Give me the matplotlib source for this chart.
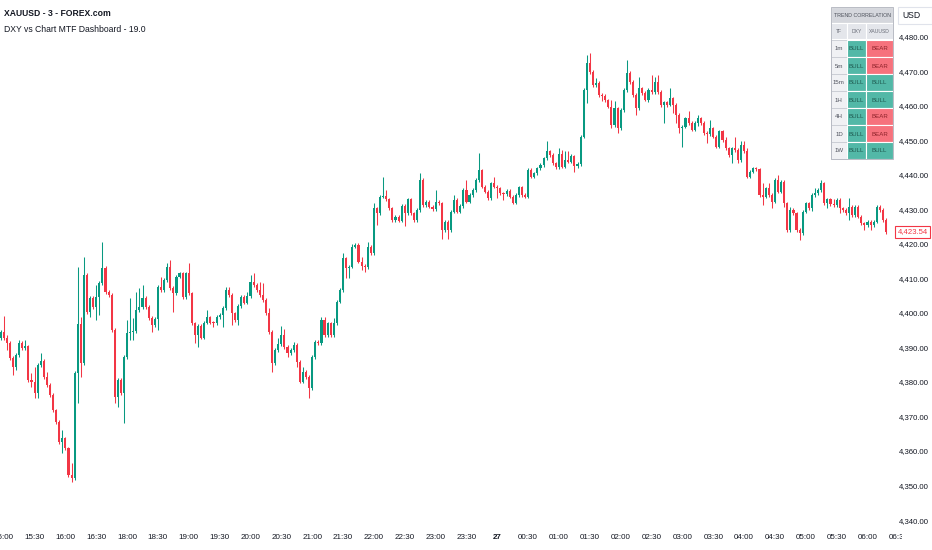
import numpy as np
import matplotlib.pyplot as plt
from matplotlib import font_manager
from matplotlib.patches import Rectangle

# pick a narrow sans if the box has one
names = {f.name for f in font_manager.fontManager.ttflist}
narrow = 'Liberation Sans Narrow' if 'Liberation Sans Narrow' in names else 'Liberation Sans'
plt.rcParams['font.family'] = [narrow, 'DejaVu Sans']

GREEN = '#089981'
RED = '#f23645'
TXT = '#131722'

# XAUUSD 3-minute candles, 14:57 -> 06:27
opens = [
    # 14:57 - 16:57
    4392.7, 4394.4, 4392.9, 4391.2, 4386.9, 4384.4, 4387.8, 4391.2, 4389.8, 4390.3,
    4380.6, 4380.1, 4376.7, 4384.9, 4386.1, 4381.6, 4379.1, 4376.2, 4371.9, 4368.5,
    4362.7, 4363.7, 4360.8, 4353.1, 4352.1, 4382.7, 4396.7, 4385.4, 4411.0, 4400.4,
    4404.3, 4401.8, 4404.7, 4408.6, 4413.0, 4406.2, 4405.2, 4395.1,
    # 18:00 -
    4375.8, 4380.6, 4376.9, 4387.3, 4394.1, 4394.6, 4394.9, 4400.9, 4401.8, 4404.3,
    4401.8, 4398.5, 4396.5, 4398.2, 4407.6, 4406.7, 4409.6, 4413.4, 4407.2, 4405.7,
    4410.5, 4411.5, 4404.7, 4411.5, 4405.7, 4397.0, 4393.6, 4396.2, 4392.9, 4397.2,
    4398.7, 4397.2, 4397.0, 4398.9,
    4399.4, 4401.4, 4406.7, 4405.2, 4399.9, 4398.0, 4402.0, 4404.7, 4403.0, 4404.9,
    4409.1, 4408.1, 4406.7, 4405.2, 4403.8, 4399.9, 4394.6, 4385.4, 4389.3, 4391.0,
    4393.6, 4390.2, 4388.3, 4389.3, 4390.7, 4385.9, 4380.1, 4383.0, 4381.5, 4378.2,
    4387.3, 4391.7, 4391.2, 4398.0, 4393.6, 4397.0, 4393.6, 4397.0, 4403.3,
    4406.7, 4415.8, 4412.9, 4413.4, 4419.2, 4419.7, 4414.9, 4413.6, 4413.2, 4419.2,
    4417.3, 4430.3, 4428.9, 4433.7, 4433.9, 4432.9, 4430.3, 4427.0, 4427.9, 4426.8,
    4431.0, 4428.9, 4432.9, 4428.9, 4427.0, 4429.9, 4438.6, 4431.3, 4432.3, 4430.8,
    4430.1, 4432.3, 4431.8, 4424.1, 4426.5, 4424.1,
    4429.4, 4432.7, 4429.4, 4431.0, 4435.6, 4432.3, 4434.2, 4435.6, 4438.5, 4441.3,
    4436.6, 4435.2, 4433.2, 4437.6, 4436.6, 4436.1, 4434.7, 4434.5, 4435.4, 4433.7,
    4432.0, 4434.2, 4436.4, 4434.2, 4433.7, 4441.4, 4439.5, 4440.5, 4441.9, 4442.9,
    4444.8, 4446.8, 4445.8,
    4443.4, 4442.2, 4446.1, 4442.4, 4444.3, 4443.9, 4445.5, 4442.6, 4443.2, 4451.1,
    4464.6, 4472.4, 4469.9, 4466.1, 4466.6, 4463.2, 4462.9, 4461.7, 4459.8, 4454.5,
    4459.3, 4453.5, 4458.8, 4464.6, 4469.5, 4467.0, 4463.2, 4459.3, 4465.1, 4463.7,
    4461.7, 4464.6, 4464.1, 4466.8, 4464.1, 4460.3, 4461.0,
    4460.3, 4462.2, 4460.3, 4457.4, 4453.5, 4454.0, 4456.4, 4455.0, 4453.1, 4455.0,
    4456.4, 4455.0, 4452.1, 4451.9, 4453.5, 4451.1, 4448.2, 4452.6, 4450.1, 4447.7,
    4445.8, 4447.7, 4447.2, 4444.4, 4448.7, 4446.8, 4439.5, 4441.0, 4441.9, 4441.6,
    4434.2, 4433.7, 4436.1, 4434.2, 4432.3,
    4438.6, 4435.2, 4438.1, 4431.8, 4424.1, 4429.9, 4428.9, 4424.1, 4423.1, 4429.4,
    4431.8, 4430.3, 4434.2, 4434.7, 4435.7, 4437.6, 4431.8, 4432.9, 4431.6, 4431.3,
    4432.8, 4430.3, 4429.9, 4428.9, 4430.8, 4428.4, 4430.8, 4427.9, 4426.0, 4425.5,
    4426.5, 4425.5, 4426.5, 4430.8, 4429.9, 4427.0,
]
highs = [
    4395.0, 4399.1, 4393.6, 4391.8, 4387.4, 4388.3, 4392.2, 4392.0, 4392.2, 4390.8,
    4382.5, 4384.4, 4385.4, 4388.3, 4386.6, 4382.8, 4379.6, 4376.7, 4372.3, 4369.0,
    4366.1, 4364.2, 4361.3, 4356.4, 4383.2, 4413.4, 4398.9, 4416.3, 4411.5, 4404.8,
    4405.0, 4408.1, 4409.2, 4420.7, 4413.5, 4406.8, 4405.7, 4395.6,
    4381.2, 4381.1, 4387.9, 4398.0, 4404.3, 4398.5, 4406.2, 4407.2, 4408.1, 4404.8,
    4402.3, 4399.0, 4398.7, 4408.2, 4410.5, 4410.1, 4414.4, 4415.4, 4407.7, 4411.0,
    4412.0, 4412.0, 4412.0, 4414.4, 4406.2, 4397.5, 4396.7, 4396.7, 4397.7, 4400.9,
    4399.2, 4397.7, 4399.5, 4400.0,
    4401.9, 4407.6, 4407.6, 4405.7, 4400.4, 4402.5, 4405.2, 4405.2, 4406.2, 4411.0,
    4411.5, 4408.6, 4409.1, 4408.6, 4404.3, 4401.4, 4395.1, 4389.8, 4392.7, 4396.2,
    4395.5, 4390.7, 4389.8, 4391.7, 4391.2, 4386.4, 4384.4, 4383.5, 4382.0, 4387.8,
    4392.2, 4392.2, 4398.9, 4398.9, 4397.5, 4397.5, 4398.5, 4403.8, 4407.2,
    4417.3, 4416.3, 4414.0, 4419.9, 4420.2, 4420.2, 4416.3, 4414.1, 4420.7, 4419.7,
    4431.8, 4430.8, 4434.2, 4439.5, 4435.7, 4433.3, 4430.8, 4428.4, 4428.4, 4431.5,
    4431.5, 4433.4, 4433.4, 4429.4, 4430.4, 4440.5, 4439.1, 4432.8, 4432.8, 4431.3,
    4435.7, 4432.8, 4432.3, 4427.0, 4427.0, 4429.9,
    4434.2, 4433.2, 4431.5, 4436.1, 4438.5, 4434.7, 4436.1, 4439.0, 4446.3, 4441.8,
    4437.1, 4435.7, 4438.1, 4439.5, 4437.1, 4436.6, 4435.2, 4435.9, 4435.9, 4434.2,
    4434.7, 4436.9, 4436.9, 4434.7, 4441.9, 4441.9, 4441.0, 4442.4, 4443.4, 4445.3,
    4449.7, 4447.3, 4446.3,
    4443.9, 4447.7, 4447.2, 4446.8, 4446.8, 4446.0, 4445.8, 4443.7, 4451.6, 4465.1,
    4474.8, 4475.3, 4470.4, 4468.0, 4467.1, 4463.7, 4463.4, 4461.9, 4461.7, 4461.3,
    4459.8, 4459.3, 4465.1, 4473.3, 4470.0, 4467.5, 4463.7, 4468.5, 4465.6, 4464.2,
    4465.1, 4469.0, 4468.5, 4469.0, 4464.6, 4461.5, 4461.5,
    4465.1, 4462.7, 4460.8, 4457.9, 4454.5, 4456.9, 4458.4, 4455.5, 4455.5, 4457.4,
    4456.9, 4455.5, 4452.6, 4456.0, 4454.0, 4451.6, 4453.1, 4453.1, 4451.1, 4448.2,
    4448.2, 4451.1, 4447.7, 4449.7, 4449.7, 4447.7, 4441.5, 4442.4, 4442.4, 4442.1,
    4437.6, 4436.6, 4437.6, 4434.7, 4439.1,
    4440.0, 4438.6, 4438.6, 4432.3, 4430.8, 4430.4, 4429.4, 4424.6, 4429.9, 4432.3,
    4432.3, 4434.7, 4436.1, 4436.2, 4438.6, 4438.1, 4433.4, 4433.4, 4432.9, 4433.3,
    4433.3, 4430.6, 4430.4, 4433.2, 4431.3, 4431.3, 4431.3, 4428.4, 4426.5, 4427.0,
    4427.0, 4427.0, 4431.3, 4431.3, 4430.4, 4427.5,
]
lows = [
    4392.2, 4392.3, 4389.3, 4386.4, 4382.0, 4383.5, 4387.3, 4389.2, 4389.3, 4380.0,
    4378.7, 4375.3, 4375.3, 4384.4, 4381.0, 4378.6, 4375.6, 4371.2, 4367.9, 4362.0,
    4359.3, 4360.2, 4352.5, 4351.1, 4351.6, 4373.8, 4381.6, 4384.8, 4399.8, 4398.9,
    4401.2, 4398.0, 4399.4, 4408.0, 4405.6, 4404.6, 4394.5, 4373.8,
    4372.9, 4376.3, 4368.0, 4386.8, 4392.2, 4392.2, 4394.3, 4400.3, 4401.2, 4401.2,
    4397.9, 4394.6, 4396.0, 4395.1, 4406.1, 4406.1, 4409.0, 4406.6, 4400.4, 4405.2,
    4410.0, 4404.2, 4404.2, 4405.2, 4396.4, 4391.2, 4390.2, 4392.4, 4392.4, 4396.7,
    4396.7, 4395.8, 4396.5, 4398.4,
    4396.0, 4400.9, 4404.7, 4396.5, 4397.4, 4396.5, 4401.5, 4402.5, 4402.5, 4404.4,
    4407.6, 4406.2, 4404.7, 4403.3, 4399.4, 4394.0, 4383.0, 4384.9, 4388.8, 4390.5,
    4389.7, 4387.3, 4387.8, 4388.8, 4384.4, 4379.6, 4379.6, 4381.0, 4375.3, 4377.7,
    4386.8, 4390.7, 4390.7, 4393.1, 4393.1, 4393.1, 4393.1, 4396.5, 4402.8,
    4406.2, 4410.0, 4410.0, 4412.9, 4418.7, 4414.4, 4412.5, 4412.0, 4412.7, 4416.8,
    4416.8, 4425.5, 4428.4, 4433.2, 4432.4, 4429.8, 4426.5, 4426.5, 4426.3, 4426.3,
    4425.2, 4428.4, 4428.4, 4426.5, 4426.5, 4429.4, 4430.8, 4430.8, 4430.3, 4429.6,
    4429.6, 4431.3, 4421.4, 4423.6, 4421.4, 4423.6,
    4428.9, 4428.9, 4428.9, 4430.5, 4431.8, 4431.8, 4433.7, 4435.1, 4438.0, 4436.1,
    4434.7, 4432.7, 4432.7, 4436.1, 4433.2, 4434.2, 4432.7, 4434.0, 4433.2, 4431.5,
    4431.5, 4433.7, 4433.7, 4433.2, 4433.2, 4439.0, 4439.0, 4440.0, 4441.4, 4442.4,
    4444.3, 4445.3, 4442.9,
    4441.7, 4441.7, 4441.9, 4441.9, 4443.4, 4443.4, 4441.0, 4441.9, 4442.7, 4450.6,
    4460.8, 4469.4, 4465.6, 4465.6, 4462.7, 4461.3, 4461.2, 4459.3, 4453.5, 4454.0,
    4452.3, 4453.0, 4458.3, 4464.1, 4466.5, 4462.7, 4457.4, 4458.8, 4463.2, 4461.3,
    4461.2, 4463.6, 4463.6, 4463.6, 4459.8, 4455.0, 4459.8,
    4460.0, 4457.9, 4455.0, 4452.1, 4448.2, 4453.5, 4454.5, 4452.6, 4452.6, 4454.3,
    4454.5, 4451.6, 4449.2, 4451.4, 4450.6, 4447.7, 4447.7, 4449.6, 4447.2, 4445.3,
    4443.4, 4446.7, 4443.4, 4443.9, 4446.3, 4439.0, 4439.0, 4440.5, 4441.1, 4433.7,
    4431.3, 4433.2, 4433.7, 4430.3, 4431.8,
    4434.7, 4434.7, 4430.8, 4423.6, 4423.6, 4428.4, 4423.6, 4421.2, 4422.6, 4428.9,
    4429.8, 4429.5, 4433.7, 4434.2, 4435.2, 4431.3, 4430.3, 4431.1, 4430.8, 4430.8,
    4428.9, 4429.4, 4428.4, 4426.9, 4427.9, 4427.9, 4427.4, 4425.5, 4424.1, 4425.0,
    4424.1, 4425.0, 4426.2, 4429.4, 4426.5, 4423.0,
]
closes = [
    4394.4, 4392.9, 4391.2, 4386.9, 4384.4, 4387.8, 4391.2, 4389.8, 4390.3, 4380.6,
    4380.1, 4376.7, 4384.9, 4386.1, 4381.6, 4379.1, 4376.2, 4371.9, 4368.5, 4362.7,
    4363.7, 4360.8, 4353.1, 4352.1, 4382.7, 4396.7, 4385.4, 4411.0, 4400.4, 4404.3,
    4401.8, 4404.7, 4408.6, 4413.0, 4406.2, 4405.2, 4395.1, 4375.8,
    4380.6, 4376.9, 4387.3, 4394.1, 4394.6, 4394.9, 4400.9, 4401.8, 4404.3, 4401.8,
    4398.5, 4396.5, 4398.2, 4407.6, 4406.7, 4409.6, 4413.4, 4407.2, 4405.7, 4410.5,
    4411.5, 4404.7, 4411.5, 4405.7, 4397.0, 4393.6, 4396.2, 4392.9, 4397.2, 4398.7,
    4397.2, 4397.0, 4398.9, 4399.4,
    4401.4, 4406.7, 4405.2, 4399.9, 4398.0, 4402.0, 4404.7, 4403.0, 4404.9, 4409.1,
    4408.1, 4406.7, 4405.2, 4403.8, 4399.9, 4394.6, 4385.4, 4389.3, 4391.0, 4393.6,
    4390.2, 4388.3, 4389.3, 4390.7, 4385.9, 4380.1, 4383.0, 4381.5, 4378.2, 4387.3,
    4391.7, 4391.2, 4398.0, 4393.6, 4397.0, 4393.6, 4397.0, 4403.3, 4406.7,
    4415.8, 4412.9, 4413.4, 4419.2, 4419.7, 4414.9, 4413.6, 4413.2, 4419.2, 4417.3,
    4430.3, 4428.9, 4433.7, 4433.9, 4432.9, 4430.3, 4427.0, 4427.9, 4426.8, 4431.0,
    4428.9, 4432.9, 4428.9, 4427.0, 4429.9, 4438.6, 4431.3, 4432.3, 4430.8, 4430.1,
    4432.3, 4431.8, 4424.1, 4426.5, 4424.1, 4429.4,
    4432.7, 4429.4, 4431.0, 4435.6, 4432.3, 4434.2, 4435.6, 4438.5, 4441.3, 4436.6,
    4435.2, 4433.2, 4437.6, 4436.6, 4436.1, 4434.7, 4434.5, 4435.4, 4433.7, 4432.0,
    4434.2, 4436.4, 4434.2, 4433.7, 4441.4, 4439.5, 4440.5, 4441.9, 4442.9, 4444.8,
    4446.8, 4445.8, 4443.4,
    4442.2, 4446.1, 4442.4, 4444.3, 4443.9, 4445.5, 4442.6, 4443.2, 4451.1, 4464.6,
    4472.4, 4469.9, 4466.1, 4466.6, 4463.2, 4462.9, 4461.7, 4459.8, 4454.5, 4459.3,
    4453.5, 4458.8, 4464.6, 4469.5, 4467.0, 4463.2, 4459.3, 4465.1, 4463.7, 4461.7,
    4464.6, 4464.1, 4466.8, 4464.1, 4460.3, 4461.0, 4460.3,
    4462.2, 4460.3, 4457.4, 4453.5, 4454.0, 4456.4, 4455.0, 4453.1, 4455.0, 4456.4,
    4455.0, 4452.1, 4451.9, 4453.5, 4451.1, 4448.2, 4452.6, 4450.1, 4447.7, 4445.8,
    4447.7, 4447.2, 4444.4, 4448.7, 4446.8, 4439.5, 4441.0, 4441.9, 4441.6, 4434.2,
    4433.7, 4436.1, 4434.2, 4432.3, 4438.6,
    4435.2, 4438.1, 4431.8, 4424.1, 4429.9, 4428.9, 4424.1, 4423.1, 4429.4, 4431.8,
    4430.3, 4434.2, 4434.7, 4435.7, 4437.6, 4431.8, 4432.9, 4431.6, 4431.3, 4432.8,
    4430.3, 4429.9, 4428.9, 4430.8, 4428.4, 4430.8, 4427.9, 4426.0, 4425.5, 4426.5,
    4425.5, 4426.5, 4430.8, 4429.9, 4427.0, 4423.54,
]

time_labels = ['15:00', '15:30', '16:00', '16:30', '18:00', '18:30', '19:00', '19:30',
               '20:00', '20:30', '21:00', '21:30', '22:00', '22:30', '23:00', '23:30',
               '27', '00:30', '01:00', '01:30', '02:00', '02:30', '03:00', '03:30',
               '04:00', '04:30', '05:00', '05:30', '06:00', '06:30']
price_ticks = list(range(4340, 4481, 10))
last_price = 4423.54

# dashboard table
tf_names = ['1m', '5m', '15m', '1H', '4H', '1D', '1W']
dxy_trend = ['BULL', 'BULL', 'BULL', 'BULL', 'BULL', 'BULL', 'BULL']
xau_trend = ['BEAR', 'BEAR', 'BULL', 'BULL', 'BEAR', 'BEAR', 'BULL']

W, H = 932, 550
fig = plt.figure(figsize=(W / 100, H / 100), dpi=100)
ax = fig.add_axes([0, 22 / H, 895 / W, 528 / H])

o = np.array(opens)
h = np.array(highs)
l = np.array(lows)
c = np.array(closes)
x = np.arange(len(c))
cols = np.where(c >= o, GREEN, RED)

ax.vlines(x, l, h, colors=cols, linewidth=0.75)
ax.bar(x, np.maximum(np.abs(c - o), 0.25), bottom=np.minimum(o, c),
       width=0.68, color=cols, linewidth=0)

px = 3.085  # pixels per candle
ax.set_xlim(-0.2, -0.2 + 895 / px)
ax.set_ylim(4337.7, 4490.7)

for s in ax.spines.values():
    s.set_visible(False)

ax.yaxis.tick_right()
ax.set_yticks(price_ticks)
ax.set_yticklabels([f'{v:,.2f}' for v in price_ticks])
ax.tick_params(axis='y', length=0, pad=2.5, labelsize=5.6, labelcolor=TXT)

# one label every 10 candles (30 min), market break skipped
xt = [1 + 10 * k for k in range(len(time_labels) - 1)]
ax.set_xticks(xt)
ax.set_xticklabels(time_labels[:-1])
ax.tick_params(axis='x', length=0, pad=4, labelsize=5.8, labelcolor=TXT)
ax.get_xticklabels()[16].set_fontweight('bold')
ax.text(1 + 10 * (len(time_labels) - 1), -0.0105, time_labels[-1],
        transform=ax.get_xaxis_transform(), ha='center', va='top',
        fontsize=5.8, color=TXT)

ax.text(1.003, last_price, f'{last_price:,.2f}', transform=ax.get_yaxis_transform(),
        ha='left', va='center', fontsize=5.6, color=RED,
        bbox=dict(boxstyle='square,pad=0.3', fc='white', ec=RED, lw=0.8))

# overlay in pixel coordinates for the header, table and price-scale bits
ov = fig.add_axes([0, 0, 1, 1], zorder=5)
ov.set_xlim(0, W)
ov.set_ylim(H, 0)
ov.axis('off')
ov.patch.set_alpha(0)

ov.add_patch(Rectangle((902, 529), 30, 21, fc='white', ec='none'))

ov.text(4, 14, 'XAUUSD - 3 - FOREX.com', fontsize=6.2, fontweight='bold',
        color=TXT, va='center', ha='left')
ov.text(4, 29, 'DXY vs Chart MTF Dashboard - 19.0', fontsize=6.2,
        color=TXT, va='center', ha='left')

ov.add_patch(Rectangle((898, 7), 34, 17, fc='white', ec='#e0e3eb', lw=0.8))
ov.text(902, 15.5, 'USD', fontsize=6.2, color=TXT, va='center', ha='left')

# table
cx = [831, 847, 866, 893]
top = 7
ov.add_patch(Rectangle((cx[0], top), cx[3] - cx[0], 16, fc='#d5d7dd', ec='white', lw=0.8))
ov.text((cx[0] + cx[3]) / 2, top + 8.5, 'TREND CORRELATION', fontsize=3.8,
        color='#4c505a', ha='center', va='center')
for j, lab in enumerate(['TF', 'DXY', 'XAUUSD']):
    ov.add_patch(Rectangle((cx[j], 23), cx[j + 1] - cx[j], 16, fc='#e4e6eb', ec='white', lw=0.8))
    ov.text((cx[j] + cx[j + 1]) / 2, 31.5, lab, fontsize=3.6, color='#6a6d78',
            ha='center', va='center')

bull_bg, bear_bg = '#52b8a7', '#f6727d'
bull_tx, bear_tx = '#1f5a50', '#8c2229'
for i, tf in enumerate(tf_names):
    y0 = 40 + 17 * i
    ov.add_patch(Rectangle((cx[0], y0), cx[1] - cx[0], 17, fc='#f0f1f4', ec='#c8cbd2', lw=0.6))
    ov.text((cx[0] + cx[1]) / 2, y0 + 9, tf, fontsize=4.4, color='#50535e',
            ha='center', va='center')
    for j, val in enumerate([dxy_trend[i], xau_trend[i]]):
        bg = bull_bg if val == 'BULL' else bear_bg
        tc = bull_tx if val == 'BULL' else bear_tx
        ov.add_patch(Rectangle((cx[j + 1], y0), cx[j + 2] - cx[j + 1], 17,
                               fc=bg, ec='white', lw=0.8))
        ov.text((cx[j + 1] + cx[j + 2]) / 2, y0 + 9, val, fontsize=4.4, color=tc,
                ha='center', va='center')
ov.add_patch(Rectangle((cx[0], top), cx[3] - cx[0], 40 + 17 * len(tf_names) - top,
                       fc='none', ec='#b8bbc4', lw=0.7))

fig.savefig('out.png', dpi=100)
